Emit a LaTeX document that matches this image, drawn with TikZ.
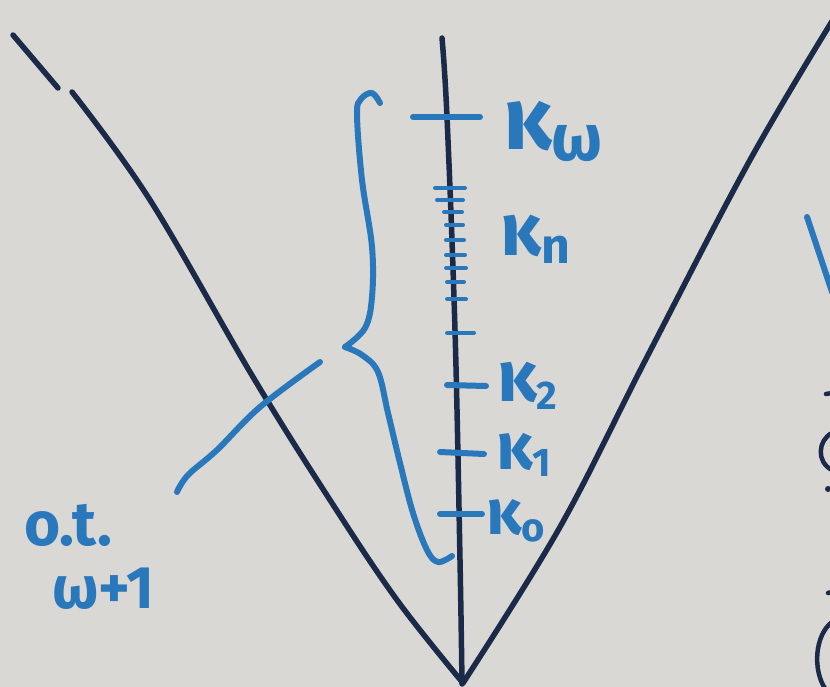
\documentclass[tikz,border=0pt]{standalone}
\usepackage{fontspec}
\newfontfamily\hand{Fira Sans}
\definecolor{paper}{HTML}{D9D8D5}
\definecolor{ink}{HTML}{1B2A48}
\definecolor{pen}{HTML}{2A78BC}
\newcommand\lowsub[2]{\raisebox{-0.12em}{\fontsize{#1}{#1}\selectfont #2}}
\begin{document}
\begin{tikzpicture}[x=1pt,y=-1pt,line cap=round,line join=round,
  darkline/.style={draw=ink,line width=5.5pt},
  penline/.style={draw=pen,line width=6pt},
  thintick/.style={draw=pen,line width=4pt},
  lbl/.style={text=pen,inner sep=0pt,font=\hand\bfseries}]
\path[fill=paper] (0,0) rectangle (830,687);
\useasboundingbox (0,0) rectangle (830,687);

% V shape and axis
\draw[darkline] (13,35) -- (58,88);
\draw[darkline] plot[smooth,tension=0.6] coordinates {(72,92) (150,200) (253,377) (330,500) (397,600) (463,683)};
\draw[darkline] plot[smooth,tension=0.6] coordinates {(442,38) (447,117) (455,330) (460,560) (462,684)};
\draw[darkline] plot[smooth,tension=0.6] coordinates {(463,683) (560,527) (647,357) (750,160) (834,18)};

% ticks
\draw[penline] (413,117) -- (480,117);
\foreach \y/\a/\b in {188/435/465,200/437/463,212/444/462,225/446/463,240/446/464,255/446/465,268/446/466,282/447/464,299/447/466}
  \draw[thintick] (\a,\y) -- (\b,\y);
\draw[thintick] (447,333) -- (474,333);
\draw[penline] (447,385) -- (486,386);
\draw[penline] (440,452) -- (484,454);
\draw[penline] (440,514) -- (482,514);

% labels
\node[lbl,anchor=base west] (kw) at (503,150) {\fontsize{88}{88}\selectfont κ\lowsub{66}{ω}};
\node[lbl,anchor=base west] (kn) at (500,255) {\fontsize{74}{74}\selectfont κ\lowsub{50}{n}};
\node[lbl,anchor=base west] (k2) at (497,401) {\fontsize{72}{72}\selectfont κ\lowsub{40}{2}};
\node[lbl,anchor=base west] (k1) at (496,469) {\fontsize{66}{66}\selectfont κ\lowsub{40}{1}};
\node[lbl,anchor=base west] (k0) at (486,534) {\fontsize{64}{64}\selectfont κ\lowsub{40}{o}};

% brace
\coordinate (bracetip) at (345,347);
\draw[penline] plot[smooth,tension=0.6] coordinates {(380,103) (372,93) (361,99) (357,115) (362,180) (372,247) (372,297) (365,328) (bracetip)};
\draw[penline] plot[smooth,tension=0.6] coordinates {(bracetip) (362,355) (378,372) (388,413) (400,463) (413,513) (427,550) (438,562) (452,556)};

% order type label and connector
\node[lbl,anchor=base west] (ot) at (24,545) {\fontsize{62}{62}\selectfont o.t.};
\node[lbl,anchor=base west] (om) at (52,608) {\fontsize{60}{60}\selectfont ω+1};
\coordinate (cstart) at (177,492);
\coordinate (cend) at (320,362);
\draw[penline] plot[smooth,tension=0.6] coordinates {(cstart) (188,475) (217,450) (260,407) (cend)};

% fragments at the right edge
\draw[penline] (807,217) -- (832,292);
\draw[darkline,line width=4.5pt] (826,394) -- (832,393);
\draw[darkline,line width=4.5pt] (832,433) .. controls (818,440) and (816,462) .. (832,470);
\fill[ink] (828,489) circle (3pt);
\draw[darkline,line width=4.5pt] (828,593) -- (832,592);
\draw[darkline,line width=4.5pt] (832,622) .. controls (815,635) and (812,670) .. (826,690);
\end{tikzpicture}
\end{document}
